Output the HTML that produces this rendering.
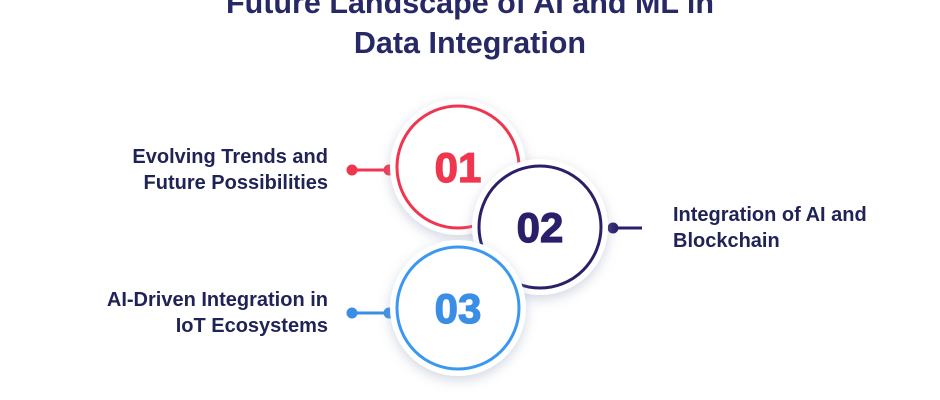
<!DOCTYPE html>
<html><head><meta charset="utf-8"><style>
html,body{margin:0;padding:0;background:#fff;}
body{width:940px;height:400px;position:relative;overflow:hidden;font-family:"Liberation Sans",sans-serif;}
.t{position:absolute;left:0;width:940px;text-align:center;color:#272866;font-weight:bold;font-size:30.5px;}
.lab{position:absolute;color:#1f2356;font-weight:bold;font-size:20px;line-height:26px;}
</style></head><body>
<div class="t" style="top:-14px;">Future Landscape of AI and ML in</div>
<div class="t" style="top:26px;">Data Integration</div>
<div class="lab" style="right:612px;top:144px;text-align:right;">Evolving Trends and<br>Future Possibilities</div>
<div class="lab" style="left:673px;top:202px;">Integration of AI and<br>Blockchain</div>
<div class="lab" style="right:612px;top:287px;text-align:right;">AI-Driven Integration in<br>IoT Ecosystems</div>
<svg width="940" height="400" style="position:absolute;left:0;top:0">
<defs><filter id="s" x="-30%" y="-30%" width="160%" height="160%"><feDropShadow dx="0" dy="4" stdDeviation="6" flood-color="#9aa6c0" flood-opacity="0.45"/></filter></defs>
<g stroke="#f0364f" stroke-width="3" fill="#f0364f"><line x1="352" y1="170" x2="389" y2="170"/><circle cx="352" cy="170" r="4"/><circle cx="389" cy="170" r="4"/></g>
<g stroke="#2a1f68" stroke-width="3" fill="#2a1f68"><line x1="613" y1="228" x2="642" y2="228"/><circle cx="613" cy="228" r="4"/></g>
<g stroke="#3a8ee6" stroke-width="3" fill="#3a8ee6"><line x1="352" y1="313" x2="389" y2="313"/><circle cx="352" cy="313" r="4"/><circle cx="389" cy="313" r="4"/></g>
<circle cx="458" cy="167" r="68" fill="#fff" filter="url(#s)"/>
<circle cx="458" cy="167" r="61" fill="none" stroke="#f0364f" stroke-width="3"/>
<text x="458" y="182" text-anchor="middle" font-family="Liberation Sans" font-weight="bold" font-size="42" fill="#f0364f" stroke="#f0364f" stroke-width="1.2">01</text>
<circle cx="540" cy="227" r="68" fill="#fff" filter="url(#s)"/>
<circle cx="540" cy="227" r="61" fill="none" stroke="#2a1f68" stroke-width="3"/>
<text x="540" y="242" text-anchor="middle" font-family="Liberation Sans" font-weight="bold" font-size="42" fill="#2a1f68" stroke="#2a1f68" stroke-width="1.2">02</text>
<circle cx="458" cy="308" r="68" fill="#fff" filter="url(#s)"/>
<circle cx="458" cy="308" r="61" fill="none" stroke="#3a98f0" stroke-width="3"/>
<text x="458" y="323" text-anchor="middle" font-family="Liberation Sans" font-weight="bold" font-size="42" fill="#3a8ee6" stroke="#3a8ee6" stroke-width="1.2">03</text>
</svg>
</body></html>
